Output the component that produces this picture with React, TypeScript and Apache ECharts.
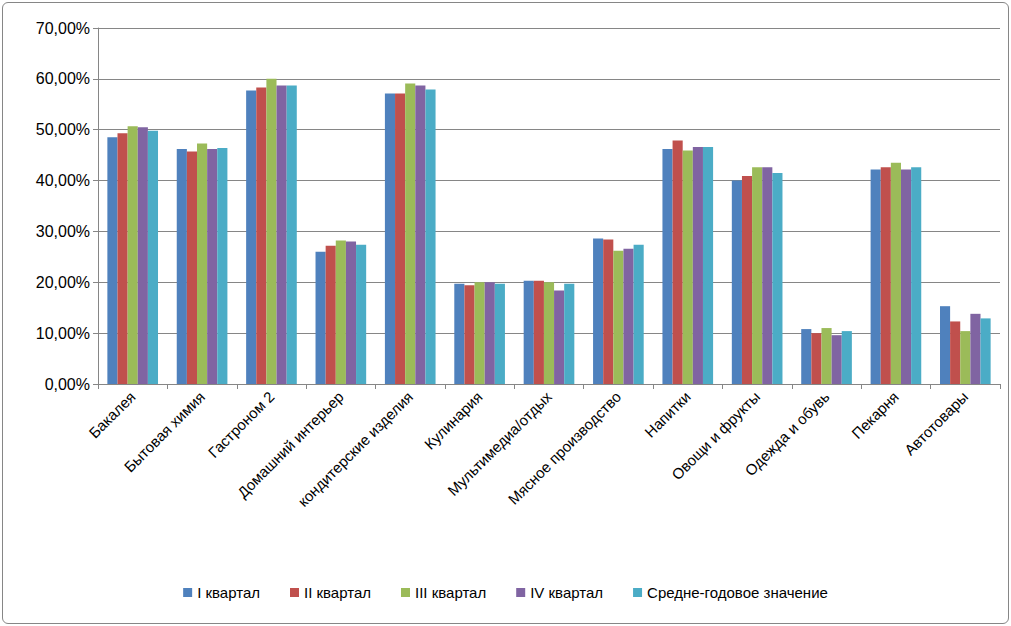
import { useEffect, useRef } from 'react'
import * as echarts from 'echarts'

const categories = [
  'Бакалея', 'Бытовая химия', 'Гастроном 2', 'Домашний интерьер', 'кондитерские изделия',
  'Кулинария', 'Мультимедиа/отдых', 'Мясное производство', 'Напитки', 'Овощи и фрукты',
  'Одежда и обувь', 'Пекарня', 'Автотовары',
]
const seriesNames = ['I квартал', 'II квартал', 'III квартал', 'IV квартал', 'Средне-годовое значение']
const colors = ['#4F81BD', '#C0504D', '#9BBB59', '#8064A2', '#4BACC6']

const q1 = [48.5, 46.2, 57.7, 26.0, 57.1, 19.7, 20.3, 28.6, 46.2, 40.0, 10.8, 42.2, 15.3]
const q2 = [49.3, 45.7, 58.3, 27.2, 57.1, 19.4, 20.3, 28.4, 47.9, 40.9, 10.0, 42.6, 12.3]
const q3 = [50.7, 47.3, 60.0, 28.2, 59.1, 20.0, 20.0, 26.2, 45.9, 42.6, 11.0, 43.5, 10.4]
const q4 = [50.5, 46.2, 58.7, 28.0, 58.7, 20.0, 18.4, 26.6, 46.6, 42.6, 9.6, 42.2, 13.8]
const avg = [49.8, 46.4, 58.7, 27.4, 57.9, 19.7, 19.7, 27.4, 46.6, 41.5, 10.4, 42.6, 12.9]
const values = [q1, q2, q3, q4, avg]

export default function App() {
  const ref = useRef<HTMLDivElement>(null)

  useEffect(() => {
    if (!ref.current) return
    const chart = echarts.init(ref.current, null, { renderer: 'svg' })
    const font = 'Liberation Sans, Arial, sans-serif'
    chart.setOption({
      animation: false,
      textStyle: { fontFamily: font },
      grid: { left: 95, right: 8, top: 25, bottom: 239 },
      legend: {
        bottom: 18,
        left: 'center',
        itemWidth: 9,
        itemHeight: 9,
        itemGap: 30,
        icon: 'rect',
        textStyle: { fontSize: 15, color: '#000', fontFamily: font },
        data: seriesNames,
      },
      xAxis: {
        type: 'category',
        data: categories,
        axisLine: { lineStyle: { color: '#868686' } },
        axisTick: { show: true, lineStyle: { color: '#868686' } },
        axisLabel: { rotate: 45, fontSize: 15, color: '#000', interval: 0, margin: 10 },
      },
      yAxis: {
        type: 'value',
        min: 0,
        max: 70,
        interval: 10,
        axisLine: { show: true, lineStyle: { color: '#868686' } },
        axisTick: { show: true, lineStyle: { color: '#868686' } },
        splitLine: { lineStyle: { color: '#868686' } },
        axisLabel: {
          fontSize: 16,
          color: '#000',
          formatter: (v: number) => v.toFixed(2).replace('.', ',') + '%',
        },
      },
      series: seriesNames.map((name, i) => ({
        name,
        type: 'bar',
        data: values[i],
        barGap: '0%',
        barCategoryGap: '27%',
        itemStyle: { color: colors[i] },
      })),
    })
    return () => chart.dispose()
  }, [])

  return (
    <div
      style={{
        width: 1005,
        height: 620,
        position: 'absolute',
        left: 2,
        top: 2,
        border: '1px solid #868686',
        borderRadius: 6,
        background: '#fff',
      }}
    >
      <div ref={ref} style={{ width: 1005, height: 620 }} />
    </div>
  )
}
